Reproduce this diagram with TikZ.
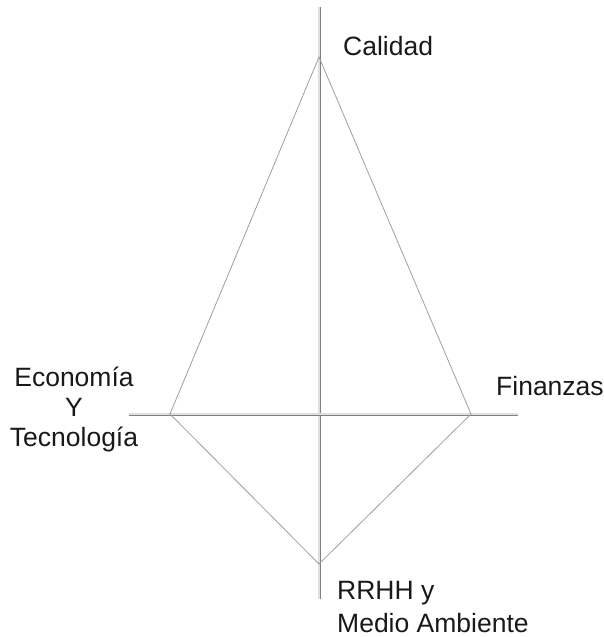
\documentclass[tikz,border=0pt]{standalone}
\usepackage{fontspec}
\setmainfont{Liberation Sans}
\usetikzlibrary{positioning}
\tikzstyle{axis}=[draw=gray,line width=0.8pt,double=gray!25,double distance=1.4pt]
\tikzstyle{side}=[draw=gray!75,line width=0.8pt]
\tikzstyle{tag}=[inner sep=0pt,text=black!90,font=\fontsize{26.5}{30}\selectfont]
\begin{document}
\begin{tikzpicture}[x=1pt,y=-1pt]
	\useasboundingbox (0,0) rectangle (604,637);

	% vertices
	\coordinate (cal) at (319,57);
	\coordinate (eco) at (170,414);
	\coordinate (fin) at (471,414);
	\coordinate (rrhh) at (319,564);

	% axis ends
	\coordinate (vtop) at (319,7);
	\coordinate (vbot) at (319,599);
	\coordinate (hleft) at (129,414);
	\coordinate (hright) at (518,414);

	% axes
	\draw[axis] (vtop) -- (vbot);
	\draw[axis] (hleft) -- (hright);

	% diamond
	\draw[side] (cal) -- (fin) -- (rrhh) -- (eco) -- cycle;

	% labels
	\node[tag,anchor=base west] (tcal) at (343,55) {Calidad};
	\node[tag,anchor=base west] (tfin) at (496,395) {Finanzas};
	\node[tag,align=center,anchor=north,font=\fontsize{26.5}{30}\selectfont] (teco) at (74,367) {Econom\'ia\\Y\\Tecnolog\'ia};
	\node[tag,align=left,anchor=north west,font=\fontsize{26.5}{33}\selectfont] (trrhh) at (337,581) {RRHH y\\Medio Ambiente};
\end{tikzpicture}
\end{document}
